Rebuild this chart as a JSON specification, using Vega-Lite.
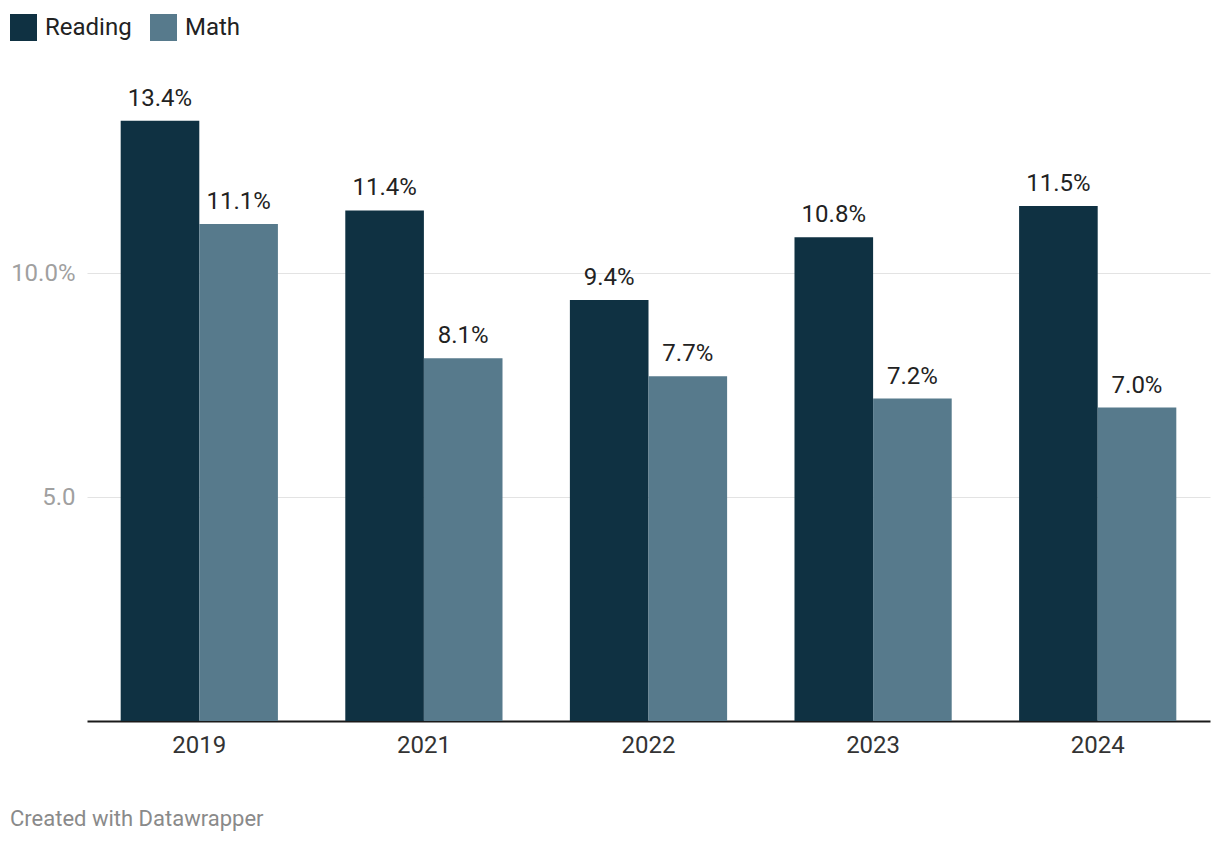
{
  "$schema": "https://vega.github.io/schema/vega-lite/v6.json",
  "width": 1123,
  "height": 627,
  "autosize": "none",
  "padding": {"left": 87, "top": 94, "right": 10, "bottom": 123},
  "background": "#ffffff",
  "config": {
    "font": "Roboto",
    "view": {"stroke": null}
  },
  "title": {
    "text": "Created with Datawrapper",
    "orient": "bottom",
    "anchor": "start",
    "frame": "group",
    "dx": -77,
    "offset": 52,
    "fontSize": 22,
    "fontWeight": "normal",
    "color": "#8a8a8a",
    "font": "Roboto"
  },
  "data": {
    "values": [
      {"year": "2019", "subject": "Reading", "value": 13.4},
      {"year": "2019", "subject": "Math", "value": 11.1},
      {"year": "2021", "subject": "Reading", "value": 11.4},
      {"year": "2021", "subject": "Math", "value": 8.1},
      {"year": "2022", "subject": "Reading", "value": 9.4},
      {"year": "2022", "subject": "Math", "value": 7.7},
      {"year": "2023", "subject": "Reading", "value": 10.8},
      {"year": "2023", "subject": "Math", "value": 7.2},
      {"year": "2024", "subject": "Reading", "value": 11.5},
      {"year": "2024", "subject": "Math", "value": 7.0}
    ]
  },
  "transform": [
    {"calculate": "format(datum.value, '.1f') + '%'", "as": "label"}
  ],
  "encoding": {
    "x": {
      "field": "year",
      "type": "nominal",
      "scale": {"paddingInner": 0.3, "paddingOuter": 0.15},
      "axis": {
        "title": null,
        "labelAngle": 0,
        "labelFontSize": 24,
        "labelColor": "#333333",
        "labelPadding": 12,
        "ticks": false,
        "domainColor": "#1a1a1a",
        "domainWidth": 2,
        "grid": false
      }
    },
    "xOffset": {"field": "subject", "type": "nominal", "sort": ["Reading", "Math"]},
    "y": {
      "field": "value",
      "type": "quantitative",
      "scale": {"domain": [0, 14], "nice": false},
      "axis": {
        "title": null,
        "values": [5, 10],
        "labelExpr": "datum.value == 10 ? '10.0%' : '5.0'",
        "labelFontSize": 24,
        "labelColor": "#a0a0a0",
        "labelPadding": 12,
        "ticks": false,
        "domain": false,
        "grid": true,
        "gridColor": "#e3e3e3",
        "gridWidth": 1
      }
    }
  },
  "layer": [
    {
      "mark": {"type": "bar"},
      "encoding": {
        "color": {
          "field": "subject",
          "type": "nominal",
          "sort": ["Reading", "Math"],
          "scale": {"domain": ["Reading", "Math"], "range": ["#0f3142", "#577a8c"]},
          "legend": {
            "title": null,
            "orient": "none",
            "direction": "horizontal",
            "legendX": -77,
            "legendY": -80,
            "symbolType": "square",
            "symbolSize": 729,
            "symbolStrokeWidth": 0,
            "symbolOpacity": 1,
            "labelFontSize": 24,
            "labelColor": "#222222",
            "labelOffset": 8,
            "columnPadding": 18,
            "padding": 0
          }
        }
      }
    },
    {
      "mark": {"type": "text", "baseline": "alphabetic", "dy": -15, "fontSize": 24, "color": "#222222"},
      "encoding": {
        "text": {"field": "label"}
      }
    }
  ]
}
